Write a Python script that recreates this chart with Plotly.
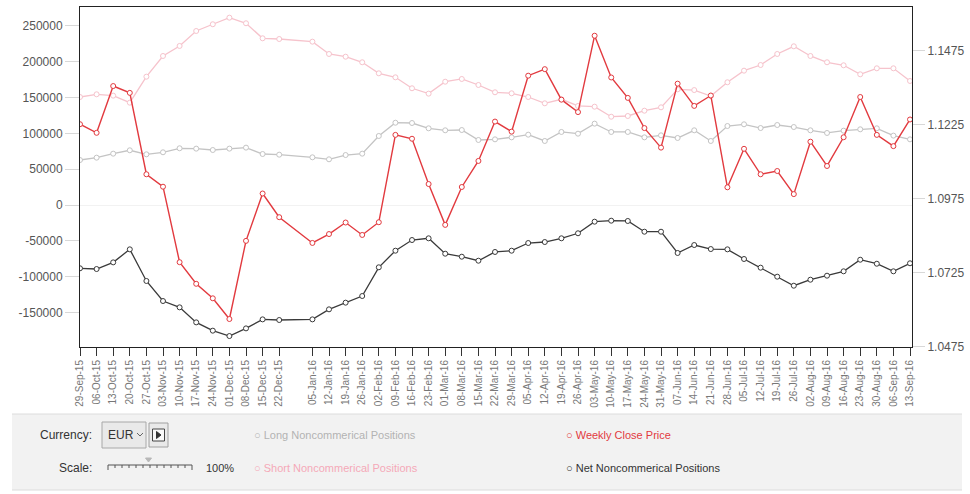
import plotly.graph_objects as go

dates = ["2015-09-29", "2015-10-06", "2015-10-13", "2015-10-20", "2015-10-27", "2015-11-03",
         "2015-11-10", "2015-11-17", "2015-11-24", "2015-12-01", "2015-12-08", "2015-12-15",
         "2015-12-22", "2016-01-05", "2016-01-12", "2016-01-19", "2016-01-26", "2016-02-02",
         "2016-02-09", "2016-02-16", "2016-02-23", "2016-03-01", "2016-03-08", "2016-03-15",
         "2016-03-22", "2016-03-29", "2016-04-05", "2016-04-12", "2016-04-19", "2016-04-26",
         "2016-05-03", "2016-05-10", "2016-05-17", "2016-05-24", "2016-05-31", "2016-06-07",
         "2016-06-14", "2016-06-21", "2016-06-28", "2016-07-05", "2016-07-12", "2016-07-19",
         "2016-07-26", "2016-08-02", "2016-08-09", "2016-08-16", "2016-08-23", "2016-08-30",
         "2016-09-06", "2016-09-13"]

tick_labels = ["29-Sep-15", "06-Oct-15", "13-Oct-15", "20-Oct-15", "27-Oct-15", "03-Nov-15",
               "10-Nov-15", "17-Nov-15", "24-Nov-15", "01-Dec-15", "08-Dec-15", "15-Dec-15",
               "22-Dec-15", "05-Jan-16", "12-Jan-16", "19-Jan-16", "26-Jan-16", "02-Feb-16",
               "09-Feb-16", "16-Feb-16", "23-Feb-16", "01-Mar-16", "08-Mar-16", "15-Mar-16",
               "22-Mar-16", "29-Mar-16", "05-Apr-16", "12-Apr-16", "19-Apr-16", "26-Apr-16",
               "03-May-16", "10-May-16", "17-May-16", "24-May-16", "31-May-16", "07-Jun-16",
               "14-Jun-16", "21-Jun-16", "28-Jun-16", "05-Jul-16", "12-Jul-16", "19-Jul-16",
               "26-Jul-16", "02-Aug-16", "09-Aug-16", "16-Aug-16", "23-Aug-16", "30-Aug-16",
               "06-Sep-16", "13-Sep-16"]

long_pos = [62800, 66100, 71700, 76400, 70800, 73600, 79200, 78700, 76800, 78700, 80100, 71200,
            70300, 66600, 63800, 69800, 71700, 96400, 114900, 114500, 107100, 104300, 104700, 90800,
            91700, 94500, 98200, 89400, 102000, 99600, 113600, 102000, 102000, 94500, 97300, 93600,
            104300, 89400, 110300, 112700, 107500, 111700, 108900, 104300, 100600, 103800, 105700,
            107100, 96900, 91700]

short_pos = [150800, 154600, 152700, 142900, 179200, 208100, 222100, 243000, 252400, 261600, 253800,
             232800, 231800, 228100, 210900, 207100, 199300, 183900, 178300, 163000, 155500, 172200,
             176000, 167600, 157400, 156000, 150800, 142000, 147600, 138300, 137300, 123300, 124300,
             131700, 136400, 161500, 160500, 152100, 171400, 187600, 195500, 210900, 221600, 208100,
             199300, 195100, 182500, 190900, 190900, 173200]

net_pos = [-88400, -89400, -80100, -61900, -106100, -134100, -142900, -163900, -175500, -183000,
           -172300, -159700, -160600, -159700, -145700, -136400, -127100, -87000, -63800, -48900,
           -46500, -68000, -72200, -77800, -65600, -63800, -53100, -51700, -46500, -39500, -23300,
           -21900, -22300, -37300, -37300, -67000, -55900, -61500, -61900, -75400, -87500, -100100,
           -112700, -104300, -98700, -92600, -76400, -82000, -92600, -81400]

close_price = [1.1227, 1.1198, 1.1356, 1.1333, 1.1058, 1.1016, 1.0761, 1.0688, 1.0639, 1.0569,
               1.0833, 1.0993, 1.0913, 1.0826, 1.0856, 1.0895, 1.0853, 1.0896, 1.1191, 1.1178,
               1.1025, 1.0887, 1.1015, 1.1103, 1.1236, 1.1202, 1.1391, 1.1413, 1.1310, 1.1268,
               1.1526, 1.1385, 1.1316, 1.1214, 1.1148, 1.1364, 1.1289, 1.1324, 1.1014, 1.1144,
               1.1058, 1.1069, 1.0991, 1.1168, 1.1086, 1.1183, 1.1319, 1.1191, 1.1153, 1.1243]

left_ticks = [-150000, -100000, -50000, 0, 50000, 100000, 150000, 200000, 250000]
right_ticks = [1.0475, 1.0725, 1.0975, 1.1225, 1.1475]

FONT = "Arial, Liberation Sans, sans-serif"
C_LONG = "#c4c4c4"
C_SHORT = "#f6c3cc"
C_NET = "#3a3a3a"
C_PRICE = "#e23a3f"

fig = go.Figure()

def add_line(y, color, width, yaxis="y"):
    fig.add_trace(go.Scatter(
        x=dates, y=y, mode="lines+markers", yaxis=yaxis,
        line=dict(color=color, width=width),
        marker=dict(symbol="circle", size=5, color="white", line=dict(color=color, width=1)),
        showlegend=False, hoverinfo="skip"))

add_line(long_pos, C_LONG, 1.3)
add_line(short_pos, C_SHORT, 1.3)
add_line(net_pos, C_NET, 1.3)
add_line(close_price, C_PRICE, 1.4, yaxis="y2")

L, R, T, B = 80, 912, 7, 347
W, H = 970, 494

def px(x):
    return (x - L) / (R - L)

def py(y):
    return (B - y) / (B - T)

shapes = []
annotations = []

# bottom control panel
shapes.append(dict(type="rect", xref="paper", yref="paper", x0=px(12), x1=px(962),
                   y0=py(414), y1=py(490), fillcolor="#f2f2f2", line=dict(width=0), layer="below"))
shapes.append(dict(type="line", xref="paper", yref="paper", x0=px(12), x1=px(962),
                   y0=py(414), y1=py(414), line=dict(color="#dcdcdc", width=1)))
shapes.append(dict(type="line", xref="paper", yref="paper", x0=px(12), x1=px(962),
                   y0=py(490), y1=py(490), line=dict(color="#dcdcdc", width=1)))

# currency dropdown
shapes.append(dict(type="rect", xref="paper", yref="paper", x0=px(102), x1=px(146),
                   y0=py(422), y1=py(448), fillcolor="#e9e9e9", line=dict(color="#a8a8a8", width=1)))
shapes.append(dict(type="path", xref="paper", yref="paper",
                   path=f"M {px(137)} {py(433)} L {px(140)} {py(436)} L {px(143)} {py(433)}",
                   line=dict(color="#666", width=1)))
# play button
shapes.append(dict(type="rect", xref="paper", yref="paper", x0=px(149), x1=px(168),
                   y0=py(423), y1=py(447), fillcolor="#e9e9e9", line=dict(color="#a0a0a0", width=1)))
shapes.append(dict(type="rect", xref="paper", yref="paper", x0=px(152.5), x1=px(164.5),
                   y0=py(429), y1=py(441), fillcolor="#f8f8f8", line=dict(color="#444", width=1)))
shapes.append(dict(type="path", xref="paper", yref="paper",
                   path=f"M {px(156.5)} {py(431.5)} L {px(161)} {py(435)} L {px(156.5)} {py(438.5)} Z",
                   fillcolor="#333", line=dict(color="#333", width=1)))
# scale ruler
ruler = f"M {px(108)} {py(470)} L {px(108)} {py(465)} L {px(192)} {py(465)} L {px(192)} {py(470)}"
for i in range(1, 12):
    xx = 108 + i * 7
    ruler += f" M {px(xx)} {py(465)} L {px(xx)} {py(468)}"
shapes.append(dict(type="path", xref="paper", yref="paper", path=ruler,
                   line=dict(color="#555", width=1)))
shapes.append(dict(type="path", xref="paper", yref="paper",
                   path=f"M {px(145.5)} {py(458)} L {px(151.5)} {py(458)} L {px(148.5)} {py(462)} Z",
                   fillcolor="#b8b8b8", line=dict(color="#b8b8b8", width=1)))

def text(x, y, s, color="#333", size=12, xanchor="left"):
    annotations.append(dict(x=px(x), y=py(y), xref="paper", yref="paper", text=s,
                            showarrow=False, xanchor=xanchor, yanchor="middle",
                            font=dict(family=FONT, size=size, color=color)))

text(94, 435, "Currency:", "#333", 12, "right")
text(106, 435, "EUR", "#333", 12)
text(94, 468, "Scale:", "#333", 12, "right")
text(204, 468, "100%", "#333", 11)
text(252, 435, "○ Long Noncommerical Positions", "#b3b3b3", 11)
text(252, 468, "○ Short Noncommerical Positions", "#f5a9b8", 11)
text(564, 435, "○ Weekly Close Price", C_PRICE, 11)
text(564, 468, "○ Net Noncommerical Positions", "#333", 11)

fig.update_layout(
    width=W, height=H,
    margin=dict(l=L, r=W - R, t=T, b=H - B),
    paper_bgcolor="white", plot_bgcolor="white",
    font=dict(family=FONT, size=11, color="#555"),
    xaxis=dict(
        type="date", range=["2015-09-29", "2016-09-13 20:00"],
        tickvals=dates, ticktext=tick_labels, tickangle=-90,
        ticks="outside", ticklen=8, tickcolor="#333", tickwidth=1,
        tickfont=dict(family=FONT, size=10, color="#777"),
        showgrid=False, zeroline=False,
        showline=True, linecolor="#222", linewidth=1, mirror=True,
    ),
    yaxis=dict(
        range=[-198300, 276500], tickvals=left_ticks,
        ticktext=[str(v) for v in left_ticks],
        ticks="outside", ticklen=14, tickcolor="#d8d8d8",
        tickfont=dict(family=FONT, size=12, color="#555"),
        showgrid=False, zeroline=True, zerolinecolor="#f2f2f2", zerolinewidth=1,
        showline=True, linecolor="#222", linewidth=1, mirror=False,
    ),
    yaxis2=dict(
        overlaying="y", side="right",
        range=[1.0475 - 0.00005, 1.1623], tickvals=right_ticks,
        ticktext=[f"{v:.4f}" for v in right_ticks],
        ticks="outside", ticklen=12, tickcolor="#d8d8d8",
        tickfont=dict(family=FONT, size=12, color="#555"),
        showgrid=False, zeroline=False,
        showline=True, linecolor="#222", linewidth=1,
    ),
    shapes=shapes, annotations=annotations,
)

fig.write_html("out.html", config={"displayModeBar": False},
               post_script="document.body.style.margin='0px';")
